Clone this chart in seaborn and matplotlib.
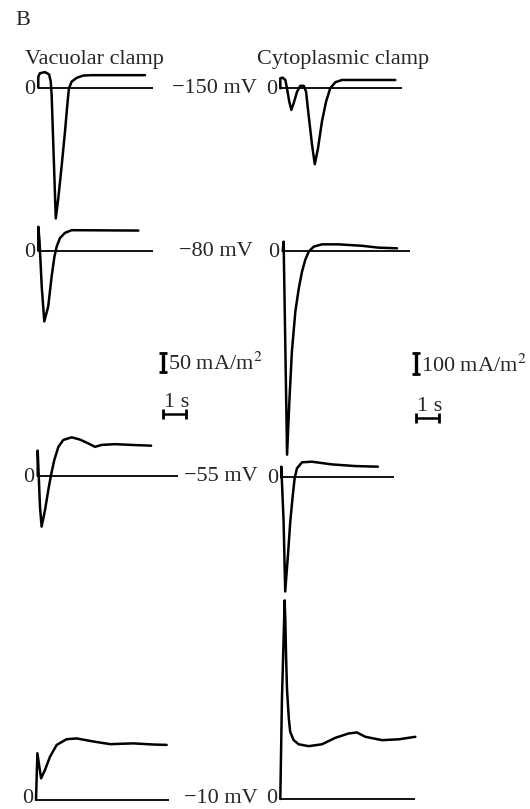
import matplotlib
matplotlib.use("Agg")
import matplotlib.pyplot as plt
import seaborn as sns
import pandas as pd

sns.set_theme(style="white")
plt.rcParams["font.family"] = ["Liberation Serif", "DejaVu Serif"]
plt.rcParams["mathtext.fontset"] = "stix"

# ---------------------------------------------------------------- data
voltages = ["\u2212150 mV", "\u221280 mV", "\u221255 mV", "\u221210 mV"]

# vacuolar clamp traces: time (s), current (mA/m2)
vac150_t = [0, 0, 0.07, 0.29, 0.47, 0.54, 0.58, 0.76, 0.87, 1.02, 1.16, 1.26, 1.33, 1.45, 1.67, 1.96, 2.32, 4.64]
vac150_i = [0, 29, 38, 41, 35, 16, -19, -344, -291, -203, -116, -46, -2, 16, 26, 32, 33, 33]

vac80_t = [0, 0, 0.05, 0.15, 0.26, 0.43, 0.58, 0.70, 0.80, 0.94, 1.16, 1.45, 4.35]
vac80_i = [0, 63, 28, -95, -186, -147, -68, -16, 11, 33, 47, 54, 53]

vac55_t = [0, 0, 0.10, 0.17, 0.32, 0.46, 0.58, 0.72, 0.90, 1.11, 1.48, 1.84, 2.20, 2.49, 2.78, 3.36, 4.09, 4.93]
vac55_i = [0, 66, -82, -134, -90, -38, 2, 41, 76, 94, 101, 95, 85, 76, 81, 83, 81, 79]

vac10_t = [0, 0.06, 0.22, 0.39, 0.61, 0.90, 1.33, 1.77, 2.49, 3.22, 4.23, 5.10, 5.68]
vac10_i = [0, 123, 57, 79, 114, 145, 160, 162, 154, 147, 149, 146, 145]

# cytoplasmic clamp traces: time (s), current (mA/m2)
cyt150_t = [0, 0, 0.10, 0.22, 0.29, 0.39, 0.48, 0.58, 0.73, 0.87, 1.02, 1.12, 1.23, 1.38, 1.50, 1.64, 1.81, 1.99, 2.17, 2.39, 2.68, 5.00]
cyt150_i = [0, 48, 51, 40, 0, -64, -104, -72, -16, 12, 12, -16, -128, -272, -365, -288, -160, -64, 0, 29, 40, 40]

cyt80_t = [0, 0.04, 0.19, 0.29, 0.40, 0.55, 0.70, 0.84, 0.98, 1.13, 1.35, 1.71, 2.43, 3.45, 4.17, 4.97]
cyt80_i = [0, 45, -979, -723, -483, -291, -179, -99, -43, -3, 21, 32, 32, 25, 16, 13]

cyt55_t = [0, 0, 0.10, 0.17, 0.29, 0.39, 0.50, 0.58, 0.68, 0.90, 1.33, 2.20, 3.22, 4.20]
cyt55_i = [0, 51, -213, -549, -373, -213, -85, -5, 43, 72, 75, 62, 54, 51]

cyt10_t = [0, 0.07, 0.19, 0.22, 0.25, 0.29, 0.37, 0.43, 0.58, 0.80, 1.23, 1.81, 2.39, 2.97, 3.33, 3.70, 4.42, 5.15, 5.87]
cyt10_i = [0, 475, 955, 851, 691, 531, 387, 323, 283, 263, 254, 263, 294, 315, 320, 299, 283, 287, 299]

# length of the zero-current reference line (s)
vac_zero_len = [5.0, 5.0, 6.1, 5.8]
cyt_zero_len = [5.3, 5.55, 4.9, 5.87]

# calibration bars
vac_bar_current, cyt_bar_current, bar_time = 50, 100, 1

# ---------------------------------------------------------------- layout
W, H = 530, 809
PX_PER_S = 23.0
VAC_PX_PER_UNIT = 0.38
CYT_PX_PER_UNIT = 0.208
FS = 16
HALF_CAP = 6  # pixels from vertical centre of digits to their baseline

fig = plt.figure(figsize=(W / 100, H / 100), dpi=100)
fig.patch.set_facecolor("white")


def fpos(x, y):
    return x / W, 1 - y / H


def label(x, y_base, s, ha="left"):
    y_base = min(y_base, H - 6)
    fig.text(*fpos(x, y_base), s, ha=ha, va="baseline", fontsize=FS)


def scaled_axes(x0, y0, px_per_unit):
    """Transparent full-figure axes whose data origin sits at pixel (x0, y0)."""
    ax = fig.add_axes([0, 0, 1, 1])
    ax.patch.set_alpha(0)
    return ax, (x0, y0, px_per_unit)


def finish(ax, geom):
    x0, y0, ppu = geom
    ax.set_xlim(-x0 / PX_PER_S, (W - x0) / PX_PER_S)
    ax.set_ylim(-(H - y0) / ppu, y0 / ppu)
    ax.axis("off")


def draw_panel(x0, y0, ppu, t, cur, zero_len):
    ax, geom = scaled_axes(x0, y0, ppu)
    ax.plot([0, zero_len], [0, 0], color="black", lw=1.3, solid_capstyle="butt")
    df = pd.DataFrame({"t": t, "i": cur})
    sns.lineplot(data=df, x="t", y="i", sort=False, estimator=None,
                 color="black", lw=1.8, ax=ax)
    ax.lines[-1].set_solid_joinstyle("round")
    ax.lines[-1].set_solid_capstyle("round")
    finish(ax, geom)
    label(x0 - 3, y0 + HALF_CAP, "0", ha="right")


vac_traces = [(vac150_t, vac150_i), (vac80_t, vac80_i), (vac55_t, vac55_i), (vac10_t, vac10_i)]
cyt_traces = [(cyt150_t, cyt150_i), (cyt80_t, cyt80_i), (cyt55_t, cyt55_i), (cyt10_t, cyt10_i)]
vac_origin = [(38.3, 87.7), (38.3, 250.7), (37.7, 475.7), (36.0, 800.0)]
cyt_origin = [(280.3, 88.3), (282.7, 251.0), (281.3, 477.3), (280.3, 799.0)]
volt_x = [172, 179, 184, 184]

for k in range(4):
    (x0, y0), (t, cur) = vac_origin[k], vac_traces[k]
    draw_panel(x0, y0, VAC_PX_PER_UNIT, t, cur, vac_zero_len[k])
    (x0, y0), (t, cur) = cyt_origin[k], cyt_traces[k]
    draw_panel(x0, y0, CYT_PX_PER_UNIT, t, cur, cyt_zero_len[k])
    label(volt_x[k], vac_origin[k][1] + HALF_CAP - 1, voltages[k])


def calibration(xb, y_cur, y_time, ppu, amount, text):
    ax, geom = scaled_axes(xb, y_cur, ppu)
    ax.plot([0, 0], [0, amount], color="black", lw=2.4, solid_capstyle="butt")
    ax.plot([0, 0], [0, amount], ls="none", marker="_", ms=6, mew=2, color="black")
    finish(ax, geom)
    ax2, geom2 = scaled_axes(xb, y_time, ppu)
    ax2.plot([0, bar_time], [0, 0], color="black", lw=1.8, solid_capstyle="butt")
    ax2.plot([0, bar_time], [0, 0], ls="none", marker="|", ms=7, mew=2, color="black")
    finish(ax2, geom2)
    label(xb + 5, y_cur - 2, text)
    label(xb + 1, y_time - 7, "1 s")


calibration(163, 372, 414, VAC_PX_PER_UNIT, vac_bar_current, "%d mA/m$^2$" % vac_bar_current)
calibration(416, 374, 418, CYT_PX_PER_UNIT, cyt_bar_current, "%d mA/m$^2$" % cyt_bar_current)

label(15, 25, "B")
label(25, 64, "Vacuolar clamp")
label(257, 64, "Cytoplasmic clamp")

fig.savefig("out.png", dpi=100, facecolor="white")
